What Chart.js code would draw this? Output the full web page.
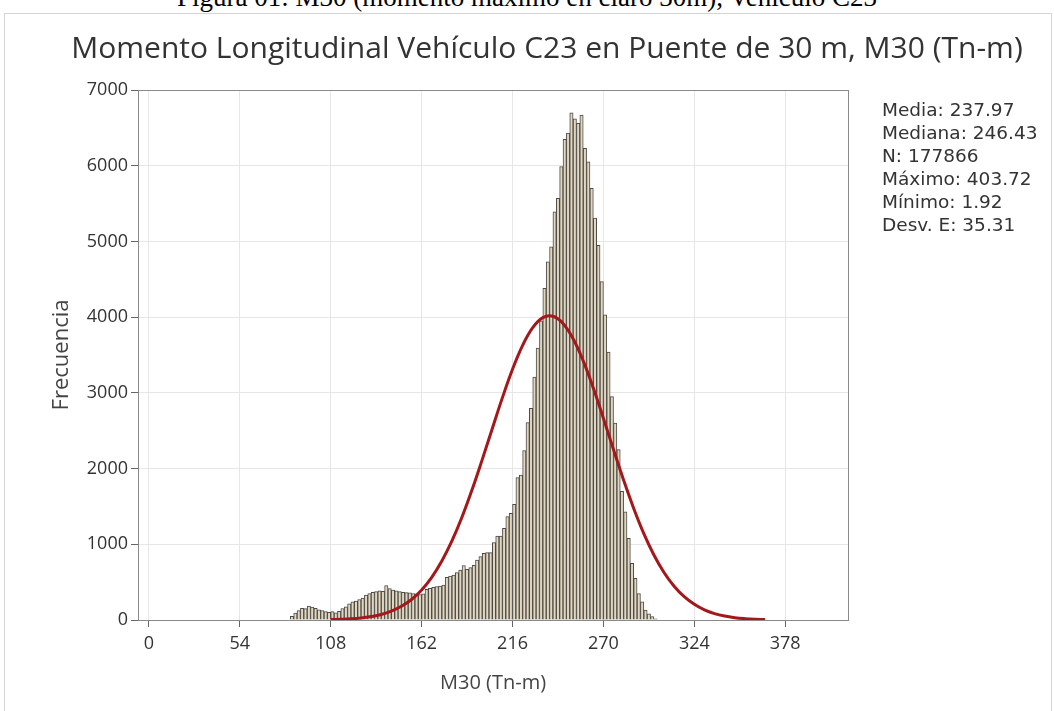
<!DOCTYPE html>
<html>
<head>
<meta charset="utf-8">
<script src="https://cdn.jsdelivr.net/npm/chart.js@4.4.1/dist/chart.umd.min.js"></script>
<style>
  body { margin: 0; background: #fff; width: 1054px; height: 711px; overflow: hidden; position: relative; }
  #cap { position: absolute; left: 0; width: 1054px; top: -18px; text-align: center; font: 27px 'Liberation Serif', serif; color: #000; white-space: nowrap; }
  #frame { position: absolute; left: 4px; top: 13px; width: 1046px; height: 720px; border: 1px solid #d4d4d4; }
  #chart { position: absolute; left: 0; top: 0; }
  #ttl { position: absolute; left: 0; width: 1094px; top: 26px; text-align: center; font: 30px 'Open Sans', sans-serif; color: #333; white-space: nowrap; }
  #stats { position: absolute; left: 882px; top: 98px; font: 18.5px 'DejaVu Sans', sans-serif; line-height: 23px; color: #333; white-space: nowrap; }
</style>
</head>
<body>
<div id="cap">Figura 01: M30 (momento máximo en claro 30m), Vehículo C23</div>
<div id="frame"></div>
<canvas id="chart" width="1054" height="711"></canvas>
<div id="ttl">Momento Longitudinal Vehículo C23 en Puente de 30 m, M30 (Tn-m)</div>
<div id="stats"></div>
<script>
// histogram bins (midpoints, width 2 Tn-m) and counts
const binMid = [
  85, 87, 89, 91, 93, 95, 97, 99, 101, 103,
  105, 107, 109, 111, 113, 115, 117, 119, 121, 123,
  125, 127, 129, 131, 133, 135, 137, 139, 141, 143,
  145, 147, 149, 151, 153, 155, 157, 159, 161, 163,
  165, 167, 169, 171, 173, 175, 177, 179, 181, 183,
  185, 187, 189, 191, 193, 195, 197, 199, 201, 203,
  205, 207, 209, 211, 213, 215, 217, 219, 221, 223,
  225, 227, 229, 231, 233, 235, 237, 239, 241, 243,
  245, 247, 249, 251, 253, 255, 257, 259, 261, 263,
  265, 267, 269, 271, 273, 275, 277, 279, 281, 283,
  285, 287, 289, 291, 293, 295, 297, 299, 301
]
const binCount = [
  50, 90, 125, 155, 150, 185, 170, 155, 135, 125,
  110, 100, 110, 95, 115, 150, 175, 215, 240, 250,
  270, 290, 330, 350, 365, 375, 385, 380, 455, 415,
  395, 385, 375, 365, 362, 360, 350, 345, 335, 345,
  405, 418, 431, 440, 449, 460, 563, 581, 594, 625,
  660, 718, 670, 691, 722, 793, 837, 881, 890, 890,
  1022, 1110, 1110, 1211, 1365, 1409, 1528, 1880, 1915, 2237,
  2607, 2796, 3210, 3590, 3950, 4380, 4730, 4930, 5390, 5570,
  5990, 6350, 6430, 6700, 6620, 6560, 6670, 6230, 6050, 5700,
  5310, 4950, 4470, 4030, 3540, 2950, 2600, 2250, 1700, 1430,
  1080, 750, 550, 350, 240, 130, 80, 45, 15
]
// fitted normal curve
const fitX = [108, 114, 120, 126, 132, 138, 144, 150, 156, 162, 168, 174, 180, 186, 192, 198, 204, 210, 216, 222, 228, 234,
  240, 246, 252, 258, 264, 270, 276, 282, 288, 294, 300, 306, 312, 318, 324, 330, 336, 342, 348, 354, 360, 366]
const fitY = [5, 9, 15, 26, 45, 73, 117, 181, 271, 397, 564, 779, 1044, 1360, 1722, 2118, 2530, 2937, 3312, 3628, 3862, 3994,
  4012, 3917, 3714, 3422, 3063, 2663, 2250, 1847, 1473, 1141, 859, 628, 446, 308, 207, 134, 85, 52, 31, 18, 10, 6]
const xTicks = [0, 54, 108, 162, 216, 270, 324, 378]
const statLines = ['Media: 237.97', 'Mediana: 246.43', 'N: 177866', 'Máximo: 403.72', 'Mínimo: 1.92', 'Desv. E: 35.31']

document.getElementById('stats').innerHTML = statLines.join('<br>')

const font = "'Open Sans', sans-serif"

const plotFrame = {
  id: 'plotFrame',
  afterDraw(chart) {
    const { ctx, chartArea: a } = chart
    ctx.save()
    ctx.strokeStyle = '#8a8a8a'
    ctx.lineWidth = 1
    ctx.strokeRect(Math.round(a.left) + 0.5, Math.round(a.top) + 0.5, Math.round(a.right - a.left), Math.round(a.bottom - a.top))
    ctx.restore()
  }
}

new Chart('chart', {
  type: 'bar',
  data: {
    datasets: [
      {
        type: 'line',
        data: fitX.map((x, i) => ({ x: x, y: fitY[i] })),
        borderColor: '#a3181b',
        borderWidth: 3,
        pointRadius: 0,
        tension: 0.4,
        order: 0
      },
      {
        type: 'bar',
        data: binMid.map((x, i) => ({ x: x, y: binCount[i] })),
        backgroundColor: '#e2d6bd',
        borderColor: '#4a4a4a',
        borderWidth: 1,
        barPercentage: 1,
        categoryPercentage: 1,
        order: 1
      }
    ]
  },
  options: {
    responsive: false,
    animation: false,
    layout: { padding: { left: 45, right: 206, top: 90, bottom: 12 } },
    plugins: {
      legend: { display: false },
      tooltip: { enabled: false }
    },
    scales: {
      x: {
        type: 'linear',
        min: -6.5,
        max: 415.3,
        offset: false,
        afterBuildTicks: s => { s.ticks = xTicks.map(v => ({ value: v })) },
        afterFit: s => { s.height = 79 },
        grid: { offset: false, color: '#e6e6e6', tickColor: '#666', tickLength: 7 },
        border: { display: false },
        ticks: { color: '#333', font: { family: font, size: 18 }, padding: 6, maxRotation: 0 },
        title: { display: true, text: 'M30 (Tn-m)', color: '#444', font: { family: font, size: 20 } }
      },
      y: {
        min: 0,
        max: 7000,
        afterFit: s => { s.width = 93 },
        grid: { color: '#e6e6e6', tickColor: '#666', tickLength: 7 },
        border: { display: false },
        ticks: { stepSize: 1000, color: '#333', font: { family: font, size: 18 }, padding: 3, callback: v => String(v) },
        title: { display: true, text: 'Frecuencia', color: '#444', font: { family: font, size: 22 } }
      }
    }
  },
  plugins: [plotFrame]
})
</script>
</body>
</html>
